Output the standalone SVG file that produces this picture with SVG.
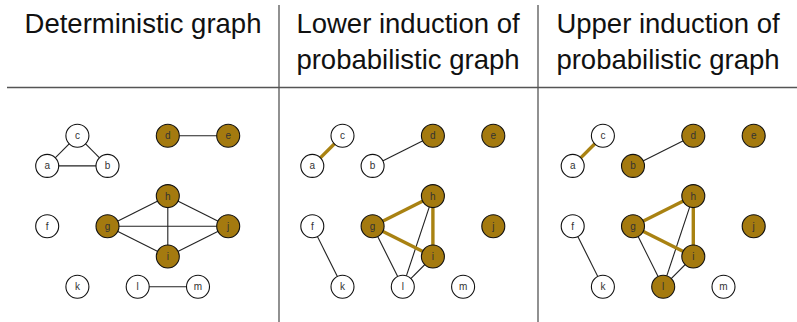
<svg xmlns="http://www.w3.org/2000/svg" width="797" height="322" viewBox="0 0 797 322">
<style>
.hd{font-family:"Liberation Sans",Arial,sans-serif;font-size:27.5px;fill:#111;text-anchor:middle}
.rule{stroke:#555;stroke-width:1.3;fill:none}
.e{stroke:#222;stroke-width:1.1;fill:none}
.eg{stroke:#A98212;stroke-width:3.4;fill:none;stroke-linecap:butt}
.nw{fill:#fff;stroke:#111;stroke-width:1.1}
.ng{fill:#A47A0F;stroke:#111;stroke-width:1.1}
.lb{font-family:"Liberation Sans",Arial,sans-serif;font-size:10px;fill:#333;text-anchor:middle}
</style>
<g id="table">
<line class="rule" x1="7" y1="87.5" x2="797" y2="87.5"/>
<line class="rule" x1="279" y1="5" x2="279" y2="322"/>
<line class="rule" x1="538" y1="5" x2="538" y2="322"/>
</g>
<g id="headers">
<text class="hd" x="143" y="32.5">Deterministic graph</text>
<text class="hd" x="408" y="32.5">Lower induction of</text>
<text class="hd" x="408" y="68.5">probabilistic graph</text>
<text class="hd" x="668" y="32.5">Upper induction of</text>
<text class="hd" x="668" y="68.5">probabilistic graph</text>
</g>
<g id="connectors">
<!-- panel 1 -->
<line class="e" x1="47.2" y1="165.9" x2="77.4" y2="135.7"/>
<line class="e" x1="107.5" y1="165.9" x2="77.4" y2="135.7"/>
<line class="e" x1="47.2" y1="165.9" x2="107.5" y2="165.9"/>
<line class="e" x1="167.8" y1="135.7" x2="228.2" y2="135.7"/>
<line class="e" x1="107.5" y1="226.3" x2="167.8" y2="196.1"/>
<line class="e" x1="107.5" y1="226.3" x2="228.2" y2="226.3"/>
<line class="e" x1="107.5" y1="226.3" x2="167.8" y2="256.5"/>
<line class="e" x1="167.8" y1="196.1" x2="167.8" y2="256.5"/>
<line class="e" x1="167.8" y1="196.1" x2="228.2" y2="226.3"/>
<line class="e" x1="167.8" y1="256.5" x2="228.2" y2="226.3"/>
<line class="e" x1="137.7" y1="286.7" x2="198.0" y2="286.7"/>
<!-- panel 2 -->
<line class="eg" x1="312.3" y1="165.9" x2="342.5" y2="135.7"/>
<line class="e" x1="372.6" y1="165.9" x2="432.9" y2="135.7"/>
<line class="e" x1="312.3" y1="226.3" x2="342.5" y2="286.7"/>
<line class="e" x1="372.6" y1="226.3" x2="402.8" y2="286.7"/>
<line class="e" x1="432.9" y1="196.1" x2="402.8" y2="286.7"/>
<line class="e" x1="432.9" y1="256.5" x2="402.8" y2="286.7"/>
<line class="eg" x1="372.6" y1="226.3" x2="432.9" y2="196.1"/>
<line class="eg" x1="372.6" y1="226.3" x2="432.9" y2="256.5"/>
<line class="eg" x1="432.9" y1="196.1" x2="432.9" y2="256.5"/>
<!-- panel 3 -->
<line class="eg" x1="572.7" y1="165.9" x2="602.9" y2="135.7"/>
<line class="e" x1="633.0" y1="165.9" x2="693.3" y2="135.7"/>
<line class="e" x1="572.7" y1="226.3" x2="602.9" y2="286.7"/>
<line class="e" x1="633.0" y1="226.3" x2="663.2" y2="286.7"/>
<line class="e" x1="693.3" y1="196.1" x2="663.2" y2="286.7"/>
<line class="e" x1="693.3" y1="256.5" x2="663.2" y2="286.7"/>
<line class="eg" x1="633.0" y1="226.3" x2="693.3" y2="196.1"/>
<line class="eg" x1="633.0" y1="226.3" x2="693.3" y2="256.5"/>
<line class="eg" x1="693.3" y1="196.1" x2="693.3" y2="256.5"/>
</g>
<!-- panel 1 nodes -->
<g id="p1-a"><circle class="nw" cx="47.2" cy="165.9" r="11.5"/><text class="lb" x="47.2" y="169.4">a</text></g>
<g id="p1-b"><circle class="nw" cx="107.5" cy="165.9" r="11.5"/><text class="lb" x="107.5" y="169.4">b</text></g>
<g id="p1-c"><circle class="nw" cx="77.4" cy="135.7" r="11.5"/><text class="lb" x="77.4" y="139.2">c</text></g>
<g id="p1-d"><circle class="ng" cx="167.8" cy="135.7" r="11.5"/><text class="lb" x="167.8" y="139.2">d</text></g>
<g id="p1-e"><circle class="ng" cx="228.2" cy="135.7" r="11.5"/><text class="lb" x="228.2" y="139.2">e</text></g>
<g id="p1-f"><circle class="nw" cx="47.2" cy="226.3" r="11.5"/><text class="lb" x="47.2" y="229.8">f</text></g>
<g id="p1-g"><circle class="ng" cx="107.5" cy="226.3" r="11.5"/><text class="lb" x="107.5" y="229.8">g</text></g>
<g id="p1-h"><circle class="ng" cx="167.8" cy="196.1" r="11.5"/><text class="lb" x="167.8" y="199.6">h</text></g>
<g id="p1-i"><circle class="ng" cx="167.8" cy="256.5" r="11.5"/><text class="lb" x="167.8" y="260">i</text></g>
<g id="p1-j"><circle class="ng" cx="228.2" cy="226.3" r="11.5"/><text class="lb" x="228.2" y="229.8">j</text></g>
<g id="p1-k"><circle class="nw" cx="77.4" cy="286.7" r="11.5"/><text class="lb" x="77.4" y="290.2">k</text></g>
<g id="p1-l"><circle class="nw" cx="137.7" cy="286.7" r="11.5"/><text class="lb" x="137.7" y="290.2">l</text></g>
<g id="p1-m"><circle class="nw" cx="198.0" cy="286.7" r="11.5"/><text class="lb" x="198.0" y="290.2">m</text></g>
<!-- panel 2 nodes -->
<g id="p2-a"><circle class="nw" cx="312.3" cy="165.9" r="11.5"/><text class="lb" x="312.3" y="169.4">a</text></g>
<g id="p2-b"><circle class="nw" cx="372.6" cy="165.9" r="11.5"/><text class="lb" x="372.6" y="169.4">b</text></g>
<g id="p2-c"><circle class="nw" cx="342.5" cy="135.7" r="11.5"/><text class="lb" x="342.5" y="139.2">c</text></g>
<g id="p2-d"><circle class="ng" cx="432.9" cy="135.7" r="11.5"/><text class="lb" x="432.9" y="139.2">d</text></g>
<g id="p2-e"><circle class="ng" cx="493.3" cy="135.7" r="11.5"/><text class="lb" x="493.3" y="139.2">e</text></g>
<g id="p2-f"><circle class="nw" cx="312.3" cy="226.3" r="11.5"/><text class="lb" x="312.3" y="229.8">f</text></g>
<g id="p2-g"><circle class="ng" cx="372.6" cy="226.3" r="11.5"/><text class="lb" x="372.6" y="229.8">g</text></g>
<g id="p2-h"><circle class="ng" cx="432.9" cy="196.1" r="11.5"/><text class="lb" x="432.9" y="199.6">h</text></g>
<g id="p2-i"><circle class="ng" cx="432.9" cy="256.5" r="11.5"/><text class="lb" x="432.9" y="260">i</text></g>
<g id="p2-j"><circle class="ng" cx="493.3" cy="226.3" r="11.5"/><text class="lb" x="493.3" y="229.8">j</text></g>
<g id="p2-k"><circle class="nw" cx="342.5" cy="286.7" r="11.5"/><text class="lb" x="342.5" y="290.2">k</text></g>
<g id="p2-l"><circle class="nw" cx="402.8" cy="286.7" r="11.5"/><text class="lb" x="402.8" y="290.2">l</text></g>
<g id="p2-m"><circle class="nw" cx="463.1" cy="286.7" r="11.5"/><text class="lb" x="463.1" y="290.2">m</text></g>
<!-- panel 3 nodes -->
<g id="p3-a"><circle class="nw" cx="572.7" cy="165.9" r="11.5"/><text class="lb" x="572.7" y="169.4">a</text></g>
<g id="p3-b"><circle class="ng" cx="633.0" cy="165.9" r="11.5"/><text class="lb" x="633.0" y="169.4">b</text></g>
<g id="p3-c"><circle class="nw" cx="602.9" cy="135.7" r="11.5"/><text class="lb" x="602.9" y="139.2">c</text></g>
<g id="p3-d"><circle class="ng" cx="693.3" cy="135.7" r="11.5"/><text class="lb" x="693.3" y="139.2">d</text></g>
<g id="p3-e"><circle class="ng" cx="753.7" cy="135.7" r="11.5"/><text class="lb" x="753.7" y="139.2">e</text></g>
<g id="p3-f"><circle class="nw" cx="572.7" cy="226.3" r="11.5"/><text class="lb" x="572.7" y="229.8">f</text></g>
<g id="p3-g"><circle class="ng" cx="633.0" cy="226.3" r="11.5"/><text class="lb" x="633.0" y="229.8">g</text></g>
<g id="p3-h"><circle class="ng" cx="693.3" cy="196.1" r="11.5"/><text class="lb" x="693.3" y="199.6">h</text></g>
<g id="p3-i"><circle class="ng" cx="693.3" cy="256.5" r="11.5"/><text class="lb" x="693.3" y="260">i</text></g>
<g id="p3-j"><circle class="ng" cx="753.7" cy="226.3" r="11.5"/><text class="lb" x="753.7" y="229.8">j</text></g>
<g id="p3-k"><circle class="nw" cx="602.9" cy="286.7" r="11.5"/><text class="lb" x="602.9" y="290.2">k</text></g>
<g id="p3-l"><circle class="ng" cx="663.2" cy="286.7" r="11.5"/><text class="lb" x="663.2" y="290.2">l</text></g>
<g id="p3-m"><circle class="nw" cx="723.5" cy="286.7" r="11.5"/><text class="lb" x="723.5" y="290.2">m</text></g>
</svg>
